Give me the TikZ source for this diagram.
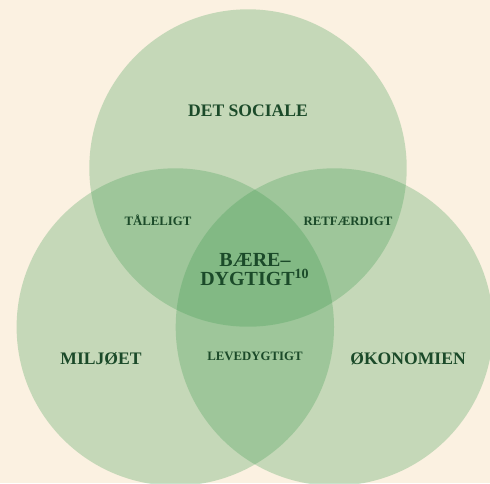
\documentclass[tikz,border=0pt]{standalone}
\usepackage{fontspec}
\setmainfont{Liberation Serif}
\definecolor{paper}{HTML}{FBF1E1}
\definecolor{leaf}{HTML}{3A9A4E}
\definecolor{ink}{HTML}{1B4A29}
\begin{document}
\begin{tikzpicture}[x=0.5pt, y=-0.5pt,
    ring/.style={circle, fill=leaf, fill opacity=0.28, minimum size=158.7pt, inner sep=0pt},
    big/.style={text=ink, inner sep=0pt, font=\bfseries\fontsize{8.8}{9}\selectfont, anchor=base},
    small/.style={text=ink, inner sep=0pt, font=\bfseries\fontsize{6.4}{7}\selectfont, anchor=base},
    core/.style={text=ink, inner sep=0pt, align=center, font=\bfseries\fontsize{10}{9.5}\selectfont, anchor=north}]
        % Background
        \fill[paper] (0,0) rectangle (490,483);
        \useasboundingbox (0,0) rectangle (490,483);

        % Define circles
        \node[ring] (social) at (248, 168) {};
        \node[ring] (env)    at (175.3, 327) {};
        \node[ring] (econ)   at (334.4, 327) {};

        % Labels
        \node[big]   (lsocial) at (248, 116.7) {DET SOCIALE};
        \node[big]   (lenv)    at (101, 364.3) {MILJØET};
        \node[big]   (lecon)   at (408, 364.3) {ØKONOMIEN};
        \node[small] (ltal)    at (158, 225.7) {TÅLELIGT};
        \node[small] (lret)    at (348, 225.7) {RETFÆRDIGT};
        \node[small] (llev)    at (255, 360.7) {LEVEDYGTIGT};
        \node[core]  (lcore)   at (255, 253.3) {BÆRE–\\DYGTIGT\textsuperscript{10}};
    \end{tikzpicture}
\end{document}
